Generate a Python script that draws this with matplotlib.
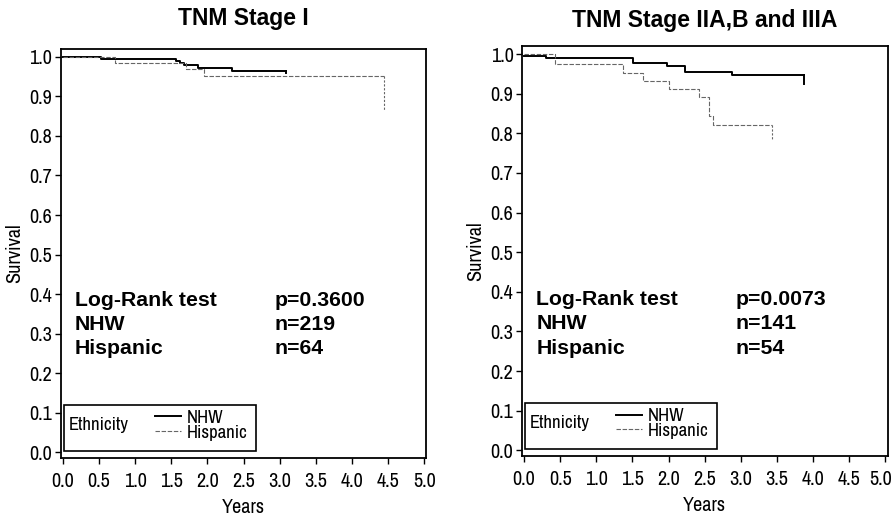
import matplotlib
matplotlib.use("Agg")
import matplotlib.pyplot as plt
from matplotlib.patches import Rectangle
from matplotlib import font_manager as fm
from matplotlib.transforms import ScaledTranslation

# Stage I curves (years, survival)
s1_nhw_t = [0.0, 0.53, 1.57, 1.62, 1.68, 1.87, 2.34, 3.09]
s1_nhw_s = [1.0, 0.995, 0.989, 0.984, 0.979, 0.972, 0.965, 0.965]
s1_nhw_end = 0.96
s1_his_t = [0.0, 0.72, 1.71, 1.95, 4.45]
s1_his_s = [1.0, 0.984, 0.970, 0.953, 0.953]
s1_his_end = 0.865

# Stage IIA,B and IIIA curves
s2_nhw_t = [0.0, 0.30, 1.51, 1.98, 2.23, 2.88, 3.88]
s2_nhw_s = [0.995, 0.989, 0.977, 0.970, 0.956, 0.947, 0.947]
s2_nhw_end = 0.924
s2_his_t = [0.0, 0.43, 1.375, 1.65, 2.0, 2.42, 2.56, 2.61, 3.43]
s2_his_s = [1.0, 0.975, 0.953, 0.932, 0.913, 0.892, 0.845, 0.82, 0.82]
s2_his_end = 0.784

titles = ["TNM Stage I", "TNM Stage IIA,B and IIIA"]
pvals = ["p=0.3600", "p=0.0073"]
n_nhw = ["n=219", "n=141"]
n_his = ["n=64", "n=54"]

xticks = [0.0, 0.5, 1.0, 1.5, 2.0, 2.5, 3.0, 3.5, 4.0, 4.5, 5.0]
yticks = [0.0, 0.1, 0.2, 0.3, 0.4, 0.5, 0.6, 0.7, 0.8, 0.9, 1.0]

narrow = fm.FontProperties(family=["Archivo Narrow", "DejaVu Sans"], size=14.5)
leg_font = fm.FontProperties(family=["Archivo Narrow", "DejaVu Sans"], size=13.5)
bold = ["Liberation Sans", "DejaVu Sans"]

fig = plt.figure(figsize=(8.92, 5.19), dpi=100)
axes = [fig.add_axes([0.068, 0.1175, 0.410, 0.788]),
        fig.add_axes([0.585, 0.121, 0.410, 0.790])]

data = [(s1_nhw_t, s1_nhw_s, s1_nhw_end, s1_his_t, s1_his_s, s1_his_end),
        (s2_nhw_t, s2_nhw_s, s2_nhw_end, s2_his_t, s2_his_s, s2_his_end)]
title_pad = [17, 14]
text_y = [(0.383, 0.323, 0.261), (0.38, 0.32, 0.258)]

for i, ax in enumerate(axes):
    nt, ns, ne, ht, hs, he = data[i]
    l1, = ax.step(nt, ns, where="post", color="black", lw=1.4)
    ax.plot([nt[-1], nt[-1]], [ns[-1], ne], color="black", lw=1.4)
    l2, = ax.step(ht, hs, where="post", color="#666666", lw=0.8,
                  linestyle=(0, (4, 1.5)))
    ax.plot([ht[-1], ht[-1]], [hs[-1], he], color="#666666", lw=0.8,
            linestyle=(0, (2, 1.5)))

    ax.set_xlim(-0.03, 5.03)
    ax.set_ylim(-0.015, 1.02)
    ax.set_xticks(xticks)
    ax.set_yticks(yticks)
    ax.set_xticklabels([f"{v:.1f}" for v in xticks], fontproperties=narrow)
    ax.set_yticklabels([f"{v:.1f}" for v in yticks], fontproperties=narrow)
    ax.tick_params(direction="out", length=4, width=1)
    ax.tick_params(axis="x", pad=6)
    ax.tick_params(axis="y", pad=2)
    for sp in ax.spines.values():
        sp.set_linewidth(1.3)
    ax.set_xlabel("Years", fontproperties=narrow, labelpad=5)
    ax.set_ylabel("Survival", fontproperties=narrow, labelpad=4)
    ax.set_title(titles[i], family=bold, fontsize=16.5, fontweight="bold",
                 pad=title_pad[i])

    ya, yb, yc = text_y[i]
    for x, y, s in [(0.17, ya, "Log-Rank test"), (2.93, ya, pvals[i]),
                    (0.17, yb, "NHW"), (2.93, yb, n_nhw[i]),
                    (0.17, yc, "Hispanic"), (2.93, yc, n_his[i])]:
        ax.text(x, y, s, family=bold, fontsize=15.3, fontweight="bold", va="center")

    # legend box
    ax.add_patch(Rectangle((0.008, 0.017), 0.525, 0.113, transform=ax.transAxes,
                           fill=False, edgecolor="black", lw=1.2))
    ax.text(0.022, 0.08, "Ethnicity", transform=ax.transAxes,
            fontproperties=leg_font, va="center")
    ax.legend([l1, l2], ["NHW", "Hispanic"], loc="center left",
              bbox_to_anchor=(0.257, 0.08), frameon=False, prop=leg_font,
              handlelength=1.4, handletextpad=0.3, labelspacing=-0.08,
              borderpad=0, borderaxespad=0)

# last label on the right panel sits a little left of its tick, as in the scan
lab = axes[1].get_xticklabels()[-1]
lab.set_transform(lab.get_transform() + ScaledTranslation(-5 / 100, 0, fig.dpi_scale_trans))

fig.savefig("out.png", dpi=100)
